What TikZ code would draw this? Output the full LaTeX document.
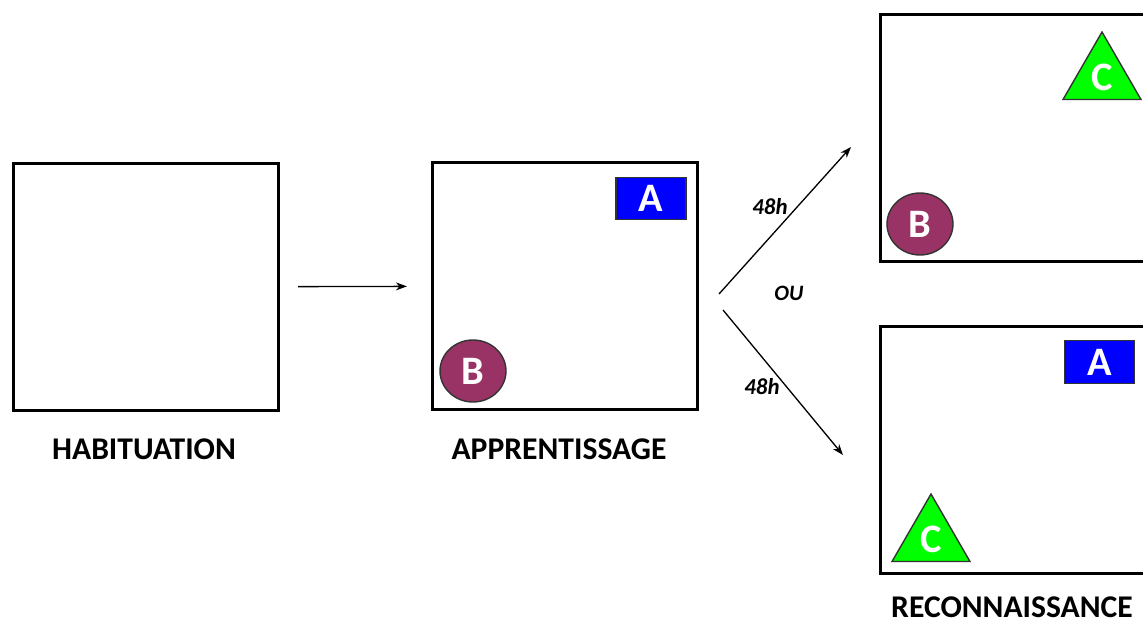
\documentclass[tikz,border=0pt]{standalone}
\usepackage{fontspec}
\setmainfont{Carlito}
\usepackage{tikz}
\usetikzlibrary{arrows.meta,shapes.geometric}
\definecolor{objblue}{RGB}{0,0,255}
\definecolor{objgreen}{RGB}{0,255,0}
\definecolor{objpurple}{RGB}{153,51,102}
\tikzset{
	arena/.style={draw,line width=1.9pt,minimum width=5.3cm,minimum height=4.94cm},
	wide arena/.style={arena,minimum width=5.6cm},
	obj/.style={draw=black!80,line width=0.8pt,text=white,inner sep=0pt,font=\fontsize{23}{25}\selectfont\bfseries},
	objA/.style={obj,rectangle,fill=objblue,minimum width=1.4cm,minimum height=0.85cm},
	objB/.style={obj,ellipse,fill=objpurple,minimum width=1.32cm,minimum height=1.24cm},
	objC/.style={obj,regular polygon,regular polygon sides=3,fill=objgreen,minimum size=1.8cm},
	phase/.style={inner sep=0pt,font=\fontsize{18}{21}\selectfont\bfseries},
	delay/.style={font=\fontsize{13}{15}\selectfont\bfseries\itshape},
}

\begin{document}
\begin{tikzpicture}[x=0.02cm,y=-0.02cm]
		\useasboundingbox (0,0) rectangle (1143,622);
		\node[arena] (HAB) at (146,287) {};
		\node[arena] (APP) at (565,286) {};
		\node[wide arena] (RUP) at (1020.5,138) {};
		\node[wide arena] (RLO) at (1020.5,450) {};
		%
		\node[objA] (APPa) at (651,198.5) {A};
		\node[objB] (APPb) at (473,371) {B};
		\node[objC] (RUPc) at (1102,77) {C};
		\node[objB] (RUPb) at (920,224) {B};
		\node[objA] (RLOa) at (1099.5,362) {A};
		\node[objC] (RLOc) at (931,539) {C};
		%
		\node[phase] (HABt) at (144,449) {HABITUATION};
		\node[phase] (APPt) at (559,449) {APPRENTISSAGE};
		\node[phase] (RECt) at (1012,607) {RECONNAISSANCE};
		%
		\coordinate (FU) at (719,294);
		\coordinate (FUe) at (851,147);
		\coordinate (FD) at (723,310);
		\coordinate (FDe) at (843,455);
		\node[delay] (DU) at (770,207) {48h};
		\node[delay] (DD) at (762,387) {48h};
		\node[delay,font=\fontsize{12.5}{14}\selectfont\bfseries\itshape] (OU) at (789,293) {OU};
		%
		\path[-{Stealth[length=2.2mm,width=1.6mm]},line width=0.75pt]
		(HAB) edge[shorten <=0.36cm,shorten >=0.48cm] (APP)
		(FU) edge (FUe)
		(FD) edge (FDe);
\end{tikzpicture}
\end{document}
